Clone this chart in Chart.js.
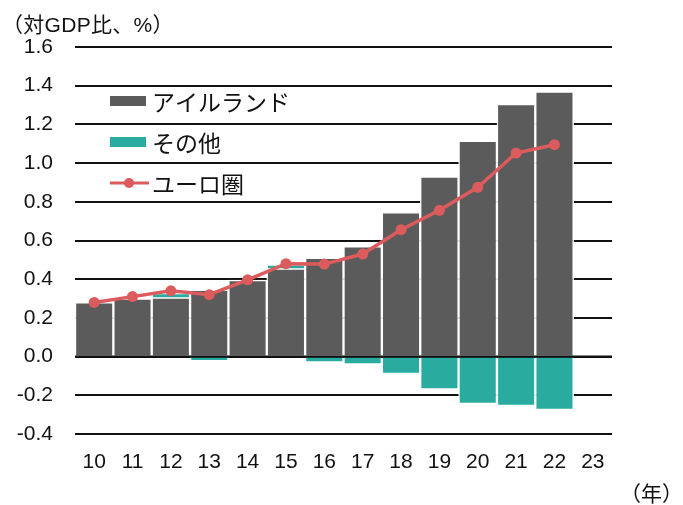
<!DOCTYPE html>
<html lang="ja">
<head>
<meta charset="utf-8">
<title>経常収支への寄与</title>
<script src="https://cdn.jsdelivr.net/npm/chart.js@4.4.1/dist/chart.umd.min.js"></script>
<style>
  html, body { margin: 0; padding: 0; background: #ffffff; }
  #wrap { position: relative; width: 683px; height: 505px; }
  #chart { position: absolute; left: 0; top: 0; }
  .note {
    position: absolute;
    font-family: "Liberation Sans", "Noto Sans CJK JP", sans-serif;
    font-size: 21px;
    color: #111;
    white-space: nowrap;
    line-height: 1;
  }
  #unit { left: 2px; top: 14px; letter-spacing: 0.3px; }
  #year { left: 620px; top: 483px; }
</style>
</head>
<body>
<div id="wrap">
  <canvas id="chart" width="683" height="505"></canvas>
  <div class="note" id="unit">（対GDP比、%）</div>
  <div class="note" id="year">（年）</div>
</div>
<script>
// 年（横軸）
const years = ['10', '11', '12', '13', '14', '15', '16', '17', '18', '19', '20', '21', '22', '23'];

// アイルランド（対GDP比、%）
const ireland = [0.28, 0.30, 0.305, 0.345, 0.395, 0.455, 0.51, 0.57, 0.745, 0.93, 1.115, 1.305, 1.37, null];

// その他
const others = [0, 0, 0.023, -0.023, 0, 0.02, -0.03, -0.04, -0.09, -0.17, -0.245, -0.255, -0.275, null];

// ユーロ圏
const euroArea = [0.28, 0.31, 0.34, 0.32, 0.397, 0.48, 0.478, 0.53, 0.656, 0.756, 0.875, 1.052, 1.095, null];

// 縦軸の目盛り
const yTicks = [-0.4, -0.2, 0.0, 0.2, 0.4, 0.6, 0.8, 1.0, 1.2, 1.4, 1.6];

const COLORS = { ireland: '#5b5b5b', others: '#2aab9f', euro: '#dc5b5c' };
const LATIN = '"Liberation Sans", Arial, sans-serif';

// 0 の線を棒の上に重ねて描く
const zeroLine = {
  id: 'zeroLine',
  afterDatasetsDraw(chart) {
    const { ctx, chartArea, scales } = chart;
    const y = scales.y.getPixelForValue(0);
    ctx.save();
    ctx.strokeStyle = '#111';
    ctx.lineWidth = 2;
    ctx.beginPath();
    ctx.moveTo(chartArea.left, y);
    ctx.lineTo(chartArea.right, y);
    ctx.stroke();
    ctx.restore();
  }
};

// 凡例（プロット内の左上）
const insetLegend = {
  id: 'insetLegend',
  afterDraw(chart) {
    const { ctx, chartArea } = chart;
    const x0 = chartArea.left + 35;
    const rows = [chartArea.top + 54, chartArea.top + 95, chartArea.top + 136];
    const ds = chart.data.datasets;
    const order = [1, 2, 0];
    ctx.save();
    ctx.font = '23px "Noto Sans CJK JP", sans-serif';
    ctx.textBaseline = 'middle';
    order.forEach((di, i) => {
      const d = ds[di];
      const y = rows[i];
      if (d.type === 'line') {
        ctx.strokeStyle = d.borderColor;
        ctx.lineWidth = 3;
        ctx.beginPath();
        ctx.moveTo(x0, y);
        ctx.lineTo(x0 + 39, y);
        ctx.stroke();
        ctx.fillStyle = d.pointBackgroundColor;
        ctx.beginPath();
        ctx.arc(x0 + 19, y, 5, 0, Math.PI * 2);
        ctx.fill();
      } else {
        ctx.fillStyle = d.backgroundColor;
        ctx.fillRect(x0, y - 5, 36, 10);
      }
      ctx.fillStyle = '#111';
      ctx.fillText(d.label, x0 + 42, y + 1);
    });
    ctx.restore();
  }
};

new Chart(document.getElementById('chart'), {
  data: {
    labels: years,
    datasets: [
      {
        type: 'line',
        label: 'ユーロ圏',
        data: euroArea,
        borderColor: COLORS.euro,
        backgroundColor: COLORS.euro,
        pointBackgroundColor: COLORS.euro,
        pointBorderColor: COLORS.euro,
        borderWidth: 3.5,
        pointRadius: 5.5,
        pointBorderWidth: 0,
        tension: 0,
        stack: 'line',
        order: 0
      },
      {
        type: 'bar',
        label: 'アイルランド',
        data: ireland,
        backgroundColor: COLORS.ireland,
        borderColor: 'rgba(255,255,255,0.9)',
        borderWidth: 1.5,
        stack: 'bars',
        order: 1
      },
      {
        type: 'bar',
        label: 'その他',
        data: others,
        backgroundColor: COLORS.others,
        borderColor: 'rgba(255,255,255,0.9)',
        borderWidth: 1.5,
        stack: 'bars',
        order: 1
      }
    ]
  },
  options: {
    responsive: false,
    animation: false,
    events: [],
    layout: { padding: { top: 47, right: 71, left: 0, bottom: 0 } },
    datasets: { bar: { barPercentage: 1, categoryPercentage: 1 } },
    plugins: { legend: { display: false }, tooltip: { enabled: false } },
    scales: {
      x: {
        stacked: true,
        offset: true,
        grid: { display: false, drawTicks: false },
        border: { display: false },
        ticks: { color: '#111', font: { family: LATIN, size: 21 }, padding: 16, maxRotation: 0, autoSkip: false },
        afterFit(scale) { scale.height = 505 - 434; }
      },
      y: {
        stacked: true,
        min: -0.4,
        max: 1.6,
        afterBuildTicks(scale) { scale.ticks = yTicks.map(v => ({ value: v })); },
        afterFit(scale) { scale.width = 75; },
        grid: { color: '#111', lineWidth: 2, drawTicks: false },
        border: { display: false },
        ticks: {
          color: '#111',
          font: { family: LATIN, size: 21 },
          padding: 22,
          callback: v => Number(v).toFixed(1)
        }
      }
    }
  },
  plugins: [zeroLine, insetLegend]
});
</script>
</body>
</html>
